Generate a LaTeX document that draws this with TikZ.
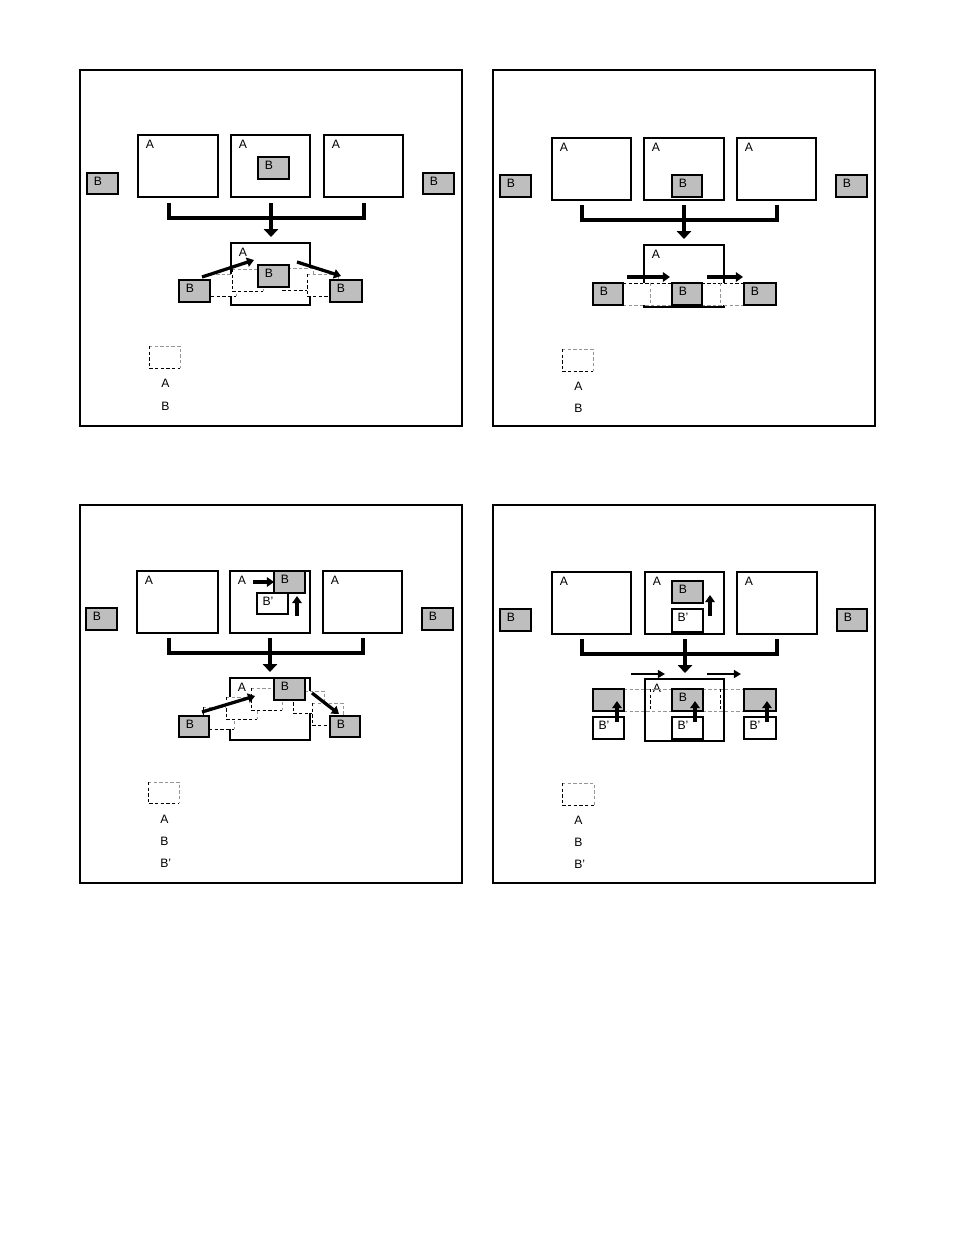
\documentclass[tikz,border=0pt]{standalone}
\usepackage{fontspec}
\setmainfont{Liberation Sans}
\usetikzlibrary{arrows.meta,fit,calc}
\definecolor{bgray}{RGB}{190,190,190}
\definecolor{dgray}{RGB}{150,150,150}
\tikzset{
 frame/.style={draw, line width=0.75pt, inner sep=0pt, outer sep=0pt},
 rbox/.style={draw, line width=0.8pt, inner sep=0pt, outer sep=0pt},
 abox/.style={rbox, fill=white},
 bbox/.style={rbox, fill=bgray},
 pbox/.style={rbox, fill=white},
 thk/.style={line width=1.5pt},
 lbl/.style={inner sep=0pt, font=\fontsize{7.8}{9}\selectfont},
 bracket/.style={line width=2.6pt, line join=miter, line cap=butt},
 bigarr/.style={line width=2.6pt, line cap=butt, -{Triangle[length=5pt,width=9pt]}},
 arr/.style={line width=2.1pt, -{Triangle[length=4.5pt,width=6pt]}},
 tarr/.style={line width=1.5pt, -{Triangle[length=4.5pt,width=5pt]}},
 dsh/.style={dash pattern=on 2.2pt off 1.4pt, line width=0.6pt},
}
% #1 style, #2 name, #3 corner1, #4 corner2, #5 text, #6 text offset
\newcommand\mybox[6]{%
 \node[#1, fit={(#3) (#4)}] (#2) {};
 \node[lbl] (#2t) at ($(#2.north west)+(#6)$) {#5};}
% dashed ghost box: #1 name, #2 corner1, #3 corner2
\newcommand\ghost[3]{%
 \node[inner sep=0pt, outer sep=0pt, fill=white, fit={(#2) (#3)}] (#1) {};
 \draw[dsh, dgray] (#1.north west) -- (#1.north east) -- (#1.south east);
 \draw[dsh] (#1.north west) -- (#1.south west) -- (#1.south east);}
\begin{document}
\begin{tikzpicture}[x=0.6415pt, y=-0.6415pt]
\useasboundingbox (0,0) rectangle (954,1244);
\fill[white] (0,0) rectangle (954,1244);

%================ PANEL 1 ================
\node[frame, fit={(80,70) (462,426)}] (f1) {};
\mybox{abox}{a11}{138,135}{218,197}{A}{12,9}
\draw[thk] (a11.north west) -- (a11.south west);
\mybox{abox}{a12}{231,135}{310,197}{A}{12,9}
\mybox{bbox}{b12}{258,157}{289,179}{B}{11,8}
\mybox{abox}{a13}{324,135}{403,197}{A}{12,9}
\mybox{bbox}{bl1}{87,173}{118,194}{B}{11,8}
\draw[thk] (bl1.north east) -- (bl1.south east);
\mybox{bbox}{br1}{423,173}{454,194}{B}{11,8}
\coordinate (k1a) at (169,203); \coordinate (k1b) at (364,218); \coordinate (k1c) at (364,203);
\draw[bracket] (k1a) |- (k1b) -- (k1c);
\coordinate (m1s) at (271,203); \coordinate (m1e) at (271,237);
\draw[bigarr] (m1s) -- (m1e);
\mybox{abox}{a1b}{231,243}{310,305}{A}{12,9}
\ghost{d11}{205,274}{236,296}
\ghost{d12}{232,269}{263,291}
\ghost{d13}{282,268}{313,290}
\ghost{d14}{307,274}{338,296}
\mybox{bbox}{bc1}{258,265}{289,287}{B}{11,8}
\mybox{bbox}{bbl1}{179,280}{210,302}{B}{11,8}
\draw[thk] (bbl1.north west) -- (bbl1.south west) -- (bbl1.south east);
\mybox{bbox}{bbr1}{330,280}{362,302}{B}{11,8}
\draw[thk] (bbr1.south west) -- (bbr1.north west) -- (bbr1.north east) -- (bbr1.south east);
\coordinate (p1a) at (202,277); \coordinate (p1b) at (254,260);
\coordinate (p1c) at (297,262); \coordinate (p1d) at (341,276);
\draw[arr] (p1a) -- (p1b);
\draw[arr] (p1c) -- (p1d);
\ghost{lg1}{149,346}{180,368}
\node[lbl, anchor=west] (l1a) at (161,383) {A};
\node[lbl, anchor=west] (l1b) at (161,406) {B};

%================ PANEL 2 ================
\node[frame, fit={(493,70) (875,426)}] (f2) {};
\mybox{abox}{a21}{552,138}{631,200}{A}{12,9}
\mybox{abox}{a22}{644,138}{724,200}{A}{12,9}
\mybox{bbox}{b22}{672,175}{702,197}{B}{11,8}
\mybox{abox}{a23}{737,138}{816,200}{A}{12,9}
\draw[thk] (a21.north west) -- (a21.north east);
\draw[thk] (a22.north west) -- (a22.north east);
\draw[thk] (a23.north west) -- (a23.north east);
\mybox{bbox}{bl2}{500,175}{531,197}{B}{11,8}
\mybox{bbox}{br2}{836,175}{867,197}{B}{11,8}
\coordinate (k2a) at (582,205); \coordinate (k2b) at (777,220); \coordinate (k2c) at (777,205);
\draw[bracket] (k2a) |- (k2b) -- (k2c);
\coordinate (m2s) at (684,205); \coordinate (m2e) at (684,239);
\draw[bigarr] (m2s) -- (m2e);
\mybox{abox}{a2b}{644,245}{724,307}{A}{12,9}
\node[inner sep=0pt, outer sep=0pt, fill=white, fit={(623,283) (744,305)}] (dr2) {};
\draw[dsh] (dr2.north west) -- (dr2.north east);
\draw[dsh, dgray] (dr2.south west) -- (dr2.south east);
\coordinate (v2a) at (650,283); \coordinate (v2b) at (650,305);
\coordinate (v2c) at (720,283); \coordinate (v2d) at (720,305);
\draw[dsh, dgray] (v2a) -- (v2b);
\draw[dsh, dgray] (v2c) -- (v2d);
\mybox{bbox}{bbl2}{593,283}{623,305}{B}{11,8}
\draw[thk] (bbl2.south west) -- (bbl2.south east);
\mybox{bbox}{bc2}{672,283}{702,305}{B}{11,8}
\mybox{bbox}{bbr2}{744,283}{776,305}{B}{11,8}
\draw[thk] (bbr2.north east) -- (bbr2.south east) -- (bbr2.south west);
\coordinate (p2a) at (627,277); \coordinate (p2b) at (670,277);
\coordinate (p2c) at (707,277); \coordinate (p2d) at (743,277);
\draw[arr] (p2a) -- (p2b);
\draw[arr] (p2c) -- (p2d);
\ghost{lg2}{562,349}{593,371}
\node[lbl, anchor=west] (l2a) at (574,386) {A};
\node[lbl, anchor=west] (l2b) at (574,408) {B};

%================ PANEL 3 ================
\node[frame, fit={(80,505) (462,883)}] (f3) {};
\mybox{abox, line width=1.3pt}{a31}{137,571}{218,633}{A}{12,9}
\mybox{abox, line width=1.3pt}{a32}{230,571}{310,633}{A}{12,9}
\mybox{bbox}{b32}{274,571}{305,593}{B}{11,8}
\mybox{pbox}{p32}{257,593}{288,614}{B’}{11,8}
\mybox{abox, line width=1.3pt}{a33}{323,571}{402,633}{A}{12,9}
\coordinate (q3a) at (253,582); \coordinate (q3b) at (274,582);
\draw[arr] (q3a) -- (q3b);
\coordinate (q3c) at (297,616); \coordinate (q3d) at (297,596);
\draw[arr] (q3c) -- (q3d);
\mybox{bbox}{bl3}{86,608}{117,630}{B}{11,8}
\draw[thk] (bl3.north west) -- (bl3.south west);
\mybox{bbox}{br3}{422,608}{453,630}{B}{11,8}
\coordinate (k3a) at (169,638); \coordinate (k3b) at (363,653); \coordinate (k3c) at (363,638);
\draw[bracket] (k3a) |- (k3b) -- (k3c);
\coordinate (m3s) at (270,638); \coordinate (m3e) at (270,672);
\draw[bigarr] (m3s) -- (m3e);
\mybox{abox}{a3b}{230,678}{310,740}{A}{12,9}
\ghost{d31}{203,707}{234,729}
\ghost{d32}{226,697}{257,719}
\ghost{d33}{251,688}{282,710}
\ghost{d34}{293,691}{324,713}
\ghost{d35}{312,703}{343,725}
\mybox{bbox}{bt3}{274,678}{305,700}{B}{11,8}
\mybox{bbox}{bbl3}{179,716}{209,737}{B}{11,8}
\draw[thk] (bbl3.north west) -- (bbl3.south west);
\mybox{bbox}{bbr3}{330,716}{360,737}{B}{11,8}
\coordinate (p3a) at (202,712); \coordinate (p3b) at (255,696);
\coordinate (p3c) at (312,693); \coordinate (p3d) at (339,714);
\draw[arr] (p3a) -- (p3b);
\draw[arr] (p3c) -- (p3d);
\ghost{lg3}{148,782}{179,803}
\node[lbl, anchor=west] (l3a) at (160,819) {A};
\node[lbl, anchor=west] (l3b) at (160,841) {B};
\node[lbl, anchor=west] (l3c) at (160,863) {B’};

%================ PANEL 4 ================
\node[frame, fit={(493,505) (875,883)}] (f4) {};
\mybox{abox}{a41}{552,572}{631,634}{A}{12,9}
\mybox{abox}{a42}{645,572}{724,634}{A}{12,9}
\mybox{bbox}{b42}{672,581}{703,603}{B}{11,8}
\mybox{pbox}{p42}{672,609}{703,632}{B’}{11,8}
\mybox{abox}{a43}{737,572}{817,634}{A}{12,9}
\draw[thk] (a43.north east) -- (a43.south east) -- (a43.south west);
\coordinate (q4a) at (710,616); \coordinate (q4b) at (710,595);
\draw[arr] (q4a) -- (q4b);
\mybox{bbox}{bl4}{500,609}{531,631}{B}{11,8}
\draw[thk] (bl4.north west) -- (bl4.south west);
\mybox{bbox}{br4}{837,609}{867,631}{B}{11,8}
\coordinate (k4a) at (582,639); \coordinate (k4b) at (777,654); \coordinate (k4c) at (777,639);
\draw[bracket] (k4a) |- (k4b) -- (k4c);
\coordinate (m4s) at (685,639); \coordinate (m4e) at (685,673);
\draw[bigarr] (m4s) -- (m4e);
\mybox{abox}{a4b}{645,679}{724,741}{A}{12,9}
\coordinate (h4a) at (624,689); \coordinate (h4b) at (744,689);
\coordinate (h4c) at (624,711); \coordinate (h4d) at (744,711);
\draw[dsh, dgray] (h4a) -- (h4b);
\draw[dsh, dgray] (h4c) -- (h4d);
\coordinate (v4a) at (650,689); \coordinate (v4b) at (650,711);
\coordinate (v4c) at (720,689); \coordinate (v4d) at (720,711);
\draw[dsh] (v4a) -- (v4b);
\draw[dsh] (v4c) -- (v4d);
\mybox{bbox}{bbl4}{593,689}{624,711}{}{11,8}
\mybox{pbox}{pbl4}{593,717}{624,739}{B’}{11,8}
\draw[thk] (pbl4.south west) -- (pbl4.south east);
\mybox{bbox}{bc4}{672,689}{703,711}{B}{11,8}
\mybox{pbox}{pc4}{672,717}{703,739}{B’}{11,8}
\draw[thk] (pc4.north east) -- (pc4.south east) -- (pc4.south west);
\mybox{bbox}{bbr4}{744,689}{776,711}{}{11,8}
\mybox{pbox}{pbr4}{744,717}{776,739}{B’}{11,8}
\draw[thk] (pbr4.south west) -- (pbr4.south east);
\coordinate (u4a) at (617,722); \coordinate (u4b) at (617,701);
\coordinate (u4c) at (695,722); \coordinate (u4d) at (695,701);
\coordinate (u4e) at (767,722); \coordinate (u4f) at (767,701);
\draw[arr] (u4a) -- (u4b);
\draw[arr] (u4c) -- (u4d);
\draw[arr] (u4e) -- (u4f);
\coordinate (p4a) at (631,674); \coordinate (p4b) at (665,674);
\coordinate (p4c) at (707,674); \coordinate (p4d) at (741,674);
\draw[tarr] (p4a) -- (p4b);
\draw[tarr] (p4c) -- (p4d);
\ghost{lg4}{562,783}{594,805}
\node[lbl, anchor=west] (l4a) at (574,820) {A};
\node[lbl, anchor=west] (l4b) at (574,842) {B};
\node[lbl, anchor=west] (l4c) at (574,864) {B’};
\end{tikzpicture}
\end{document}
